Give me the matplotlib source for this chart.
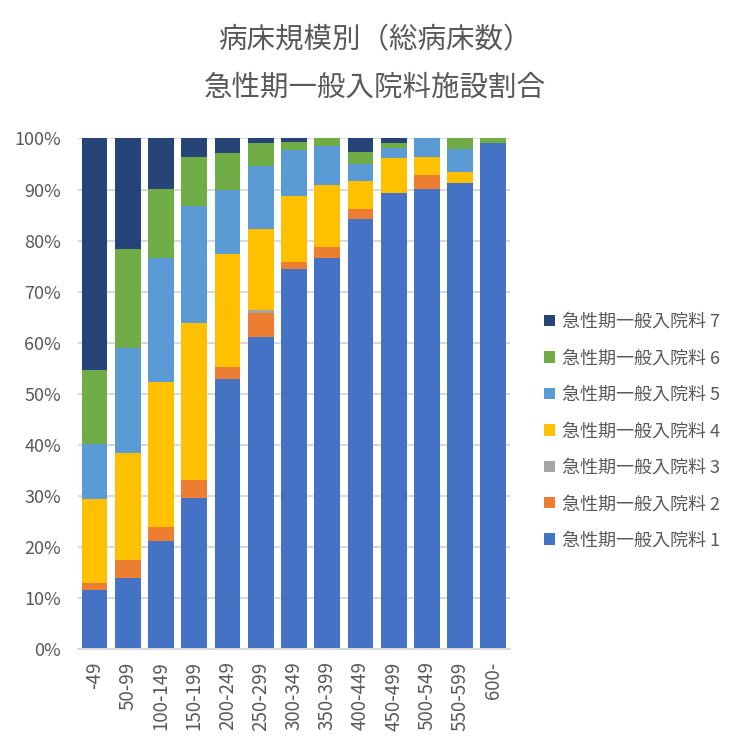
import numpy as np
import matplotlib
matplotlib.use("Agg")
import matplotlib.pyplot as plt

plt.rcParams["font.family"] = ["Noto Sans CJK JP", "DejaVu Sans"]

# 病床規模（総病床数）
categories = ["-49", "50-99", "100-149", "150-199", "200-249", "250-299",
              "300-349", "350-399", "400-449", "450-499", "500-549",
              "550-599", "600-"]

# 施設割合 (%)
rate1 = [11.5, 14.0, 21.1, 29.5, 52.8, 61.1, 74.4, 76.6, 84.2, 89.3, 90.2, 91.2, 99.1]
rate2 = [1.5, 3.5, 2.7, 3.7, 2.4, 4.8, 1.5, 2.1, 1.9, 0.0, 2.6, 0.0, 0.0]
rate3 = [0.0, 0.0, 0.1, 0.0, 0.0, 0.5, 0.0, 0.0, 0.0, 0.0, 0.0, 0.0, 0.0]
rate4 = [16.3, 20.8, 28.4, 30.6, 22.1, 15.8, 12.8, 12.2, 5.6, 6.8, 3.5, 2.2, 0.0]
rate5 = [10.9, 20.6, 24.3, 22.9, 12.7, 12.5, 9.0, 7.6, 3.4, 2.0, 3.7, 4.5, 0.0]
rate6 = [14.4, 19.4, 13.6, 9.6, 7.1, 4.4, 1.6, 1.5, 2.2, 1.0, 0.0, 2.1, 0.9]
rate7 = [45.4, 21.7, 9.8, 3.7, 2.9, 0.9, 0.7, 0.0, 2.7, 0.9, 0.0, 0.0, 0.0]

series = [
    ("急性期一般入院料 1", rate1, "#4472C4"),
    ("急性期一般入院料 2", rate2, "#ED7D31"),
    ("急性期一般入院料 3", rate3, "#A5A5A5"),
    ("急性期一般入院料 4", rate4, "#FFC000"),
    ("急性期一般入院料 5", rate5, "#5B9BD5"),
    ("急性期一般入院料 6", rate6, "#70AD47"),
    ("急性期一般入院料 7", rate7, "#264478"),
]

TXT = "#595959"
GRID = "#D9D9D9"

fig = plt.figure(figsize=(7.49, 7.47), dpi=100)
ax = fig.add_axes([0.104, 0.1312, 0.577, 0.6834])

x = np.arange(len(categories))
bottom = np.zeros(len(categories))
handles = []
for label, vals, col in series:
    v = np.array(vals)
    b = ax.bar(x, v, width=0.78, bottom=bottom, color=col, linewidth=0,
               label=label, zorder=2)
    handles.append(b)
    bottom += v

ax.set_xlim(-0.5, len(categories) - 0.5)
ax.set_ylim(0, 100)
ax.set_yticks(np.arange(0, 101, 10))
ax.set_yticklabels([f"{t}%" for t in range(0, 101, 10)])
ax.set_xticks(x)
ax.set_xticklabels(categories, rotation=90)
ax.tick_params(axis="both", length=0, labelsize=13, labelcolor=TXT)
ax.tick_params(axis="x", pad=9, labelsize=13.5)
ax.tick_params(axis="y", pad=12)

ax.yaxis.grid(True, color=GRID, linewidth=1.4)
ax.set_axisbelow(True)
for s in ["top", "right", "left"]:
    ax.spines[s].set_visible(False)
ax.spines["bottom"].set_color(GRID)
ax.spines["bottom"].set_linewidth(1.4)

fig.text(0.5, 1 - 40 / 747, "病床規模別（総病床数）", ha="center", va="center",
         fontsize=20.5, color=TXT)
fig.text(0.5, 1 - 88 / 747, "急性期一般入院料施設割合", ha="center", va="center",
         fontsize=20.5, color=TXT)

leg = fig.legend(handles[::-1], [s[0] for s in series][::-1],
                 loc="upper left", bbox_to_anchor=(544 / 749, 1 - 313 / 747),
                 frameon=False, fontsize=13, labelcolor=TXT,
                 handlelength=0.6, handleheight=0.6, handletextpad=0.4,
                 labelspacing=1.02, borderpad=0, borderaxespad=0)

fig.savefig("out.png", dpi=100)
